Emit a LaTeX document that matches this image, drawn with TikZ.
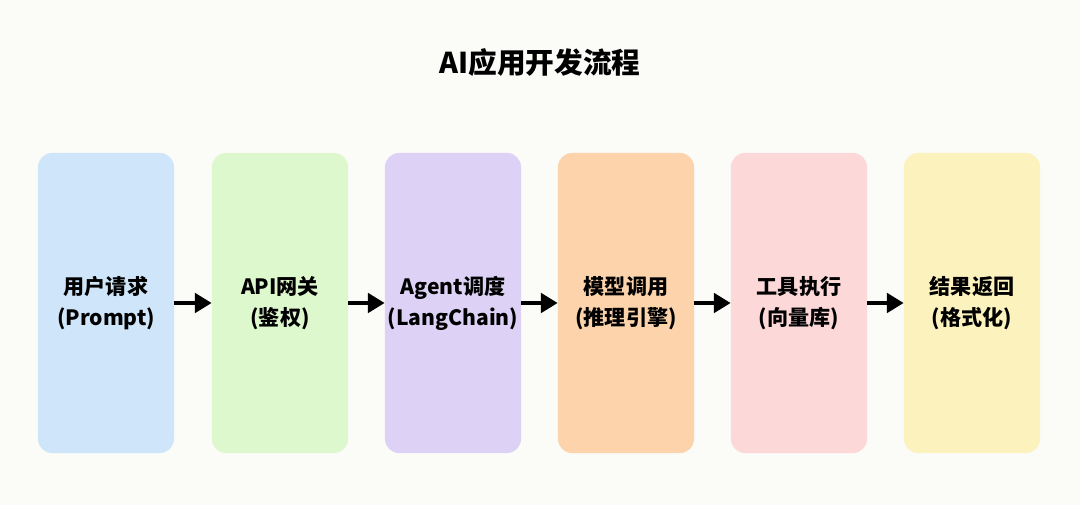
\documentclass[tikz,border=0pt]{standalone}
\usepackage{fontspec}
\setmainfont{Noto Sans CJK SC}
\usepackage{xcolor}
\definecolor{bgWhite}{HTML}{FBFBF8}
\definecolor{boxBlue}{HTML}{CFE6FA}
\definecolor{boxGreen}{HTML}{DDF8CD}
\definecolor{boxPurple}{HTML}{DDD2F5}
\definecolor{boxOrange}{HTML}{FCD3AA}
\definecolor{boxPink}{HTML}{FCD8D8}
\definecolor{boxYellow}{HTML}{FCF2BE}
\usetikzlibrary{arrows.meta}

\begin{document}
\begin{tikzpicture}[x=0.025cm,y=0.025cm,
    stage/.style={rounded corners=0.35cm,minimum width=3.4cm,minimum height=7.5cm,
      inner sep=0pt,align=center,font=\bfseries\fontsize{15}{22}\selectfont},
    flow/.style={line width=3.4pt,-{Triangle[length=0.42cm,width=0.48cm]}}]
    % canvas
    \fill [bgWhite] (0,0) rectangle (1080,505);
    \useasboundingbox (0,0) rectangle (1080,505);

    \node (title) at (540,442) {\bfseries\fontsize{20.4}{24}\selectfont AI应用开发流程};

    \node [stage,fill=boxBlue] (user) at (106,202) {用户请求\\(Prompt)};
    \node [stage,fill=boxGreen] (api) at (280,202) {API网关\\(鉴权)};
    \node [stage,fill=boxPurple] (agent) at (453,202) {Agent调度\\(LangChain)};
    \node [stage,fill=boxOrange] (model) at (626,202) {模型调用\\(推理引擎)};
    \node [stage,fill=boxPink] (tool) at (799,202) {工具执行\\(向量库)};
    \node [stage,fill=boxYellow] (result) at (972,202) {结果返回\\(格式化)};

    \draw [flow] (user.east) -- (api.west);
    \draw [flow] (api.east) -- (agent.west);
    \draw [flow] (agent.east) -- (model.west);
    \draw [flow] (model.east) -- (tool.west);
    \draw [flow] (tool.east) -- (result.west);
\end{tikzpicture}
\end{document}
